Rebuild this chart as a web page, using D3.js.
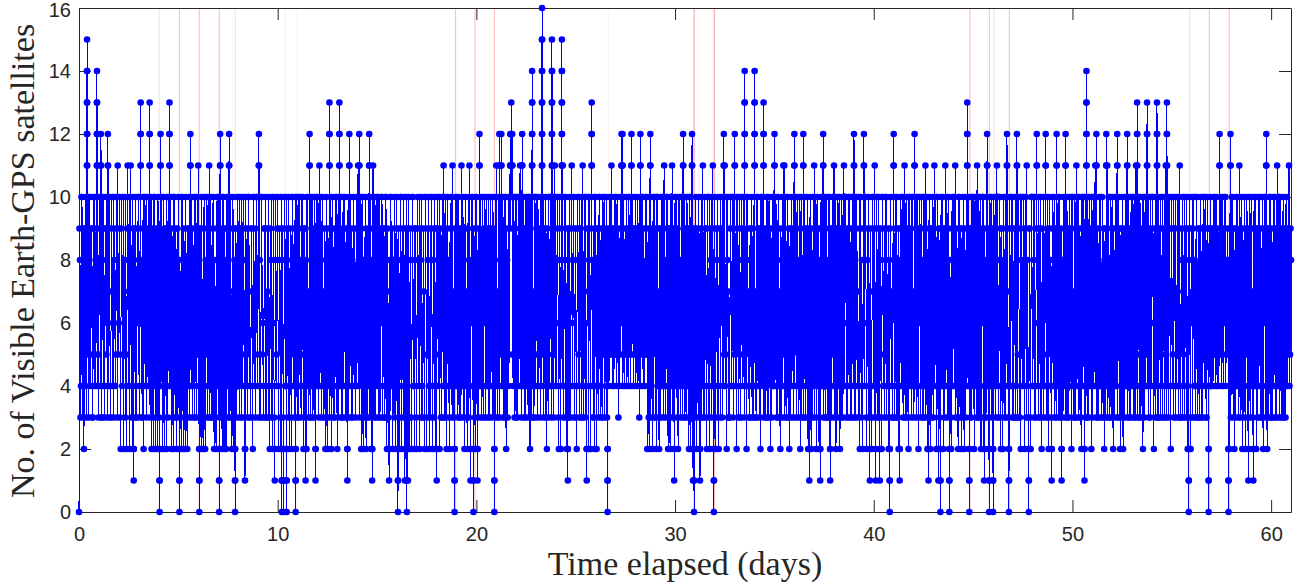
<!DOCTYPE html>
<html><head><meta charset="utf-8">
<script src="https://cdn.jsdelivr.net/npm/d3@7"></script>
<style>html,body{margin:0;padding:0;background:#fff;}svg{display:block;}</style>
</head><body>
<svg id="chart" width="1300" height="587"></svg>
<script>
// Number of visible Earth-GPS satellites; one string per day, 40 sample slots per day
// (each token = one slot; a multi-character token = several successive samples
// inside the same slot). Digits in base 17: a=10 ... g=16.
const days00to09 = [
  "0 9 8 3 4 a a 5 3 9 2 8 9 4 a 3 bcdefedcb 5 6 a 3 8 a 4 5 9 9 3 3 a 7 4 a 5 4 9 bcdedcb 4 a 3",
  "5 9 a 4 bcb 3 3 a 8 4 a 3 4 9 9 5 a 3 bcb 4 4 a 7 3 3 9 a 4 6 a 3 8 9 4 5 a a 3 b 5",
  "6 a 9 3 2 9 a 4 5 a 2 8 8 3 a 5 2 9 b 4 7 a 2 8 b 3 4 a 2 9 212 8 9 3 a 4 3 9 6 a",
  "a 3 4 9 bcdcb 4 8 3 3 a 2 9 a 4 6 a 3 8 9 4 a 5 bcdcb 3 5 a 2 8 9 3 2 a a 4 2 9 7 3 2 a",
  "8 3 21012 9 bcb 4 5 a 2 8 a 3 2 9 9 4 2 a 6 3 a 5 bcdcb 4 4 a 2 9 8 3 2 a a 4 3 9 2 8 9 3",
  "a 4 21012 8 7 3 2 a a 4 2 9 8 3 2 a 6 3 2 9 9 4 a 3 bcb 5 4 a 3 9 8 4 a 3 5 a 3 8 a 5",
  "b 4 21012 9 9 3 2 a 6 3 2 9 a 4 2 8 5 a 3 9 a 4 b 3 4 a 8 3 3 9 a 5 2 8 7 3 2 9 a 4",
  "5 a 21012 8 bcb 3 4 9 2 a a 4 2 9 8 3 2 a 9 4 a 3 bcb 5 3 a 7 3 2 9 a 4 2 8 21012 9 9 4 3 a",
  "a 4 6 a 3 9 9 3 a 5 4 a 8 3 212 9 a 4 5 9 3 a a 4 7 3 4 9 9 3 2 a a 4 6 9 3 a a 5",
  "4 a bcb 3 8 4 3 a a 5 6 3 4 9 9 3 a 4 3 9 7 3 a 4 2 9 8 3 a 4 2 a 6 3 212 8 a 4 5 9"
];
const days10to19 = [
  "a 4 2 8 9 3 2 a 21012 9 8 3 21012 9 a 4 4 a 21012 8 9 3 a 4 2 9 7 3 2 a a 4 5 9 3 a 21012 8 a 3",
  "6 a 3 9 a 4 8 3 4 a a 5 2 9 9 3 212 8 2 a a 4 7 3 bcb 4 3 a 9 4 a 3 5 9 3 a 212 9 a 4",
  "4 a 9 3 b 4 6 a 3 9 a 4 7 3 4 9 2 8 a 3 2 9 8 4 bcdcb 3 5 a 2 9 a 4 3 8 9 3 6 a a 4",
  "2 9 a 3 bcdcb 4 4 a 8 3 3 9 a 4 6 a 3 8 9 4 212 9 a 3 bcb 4 5 a 3 9 8 3 a 5 4 9 7 3 a 4",
  "5 a b 4 bcb 3 7 a 2 9 a 4 2 8 8 3 a 4 2 9 6 3 a 4 bcb 3 4 a 2 8 212 9 b 4 3 a 9 3 a 5",
  "4 a 8 3 a 4 3 9 6 a a 3 4 9 9 3 3 a a 4 2 9 7 3 212 8 2 a a 4 5 9 2 8 8 3 a 4 2 9",
  "a 4 21012 8 9 3 2 a a 4 2 9 7 3 a 4 212 9 6 a 21012 9 212 8 a 3 2 9 8 3 2 a a 4 4 9 2 8 9 3",
  "2 9 a 4 6 a 2 8 9 3 a 4 3 9 7 3 2 a a 5 2 9 8 3 a 4 2 9 3 a a 4 2 8 9 3 a 4 2 9",
  "212 9 a 4 5 a 2 8 9 3 3 a a 4 b 3 6 a 3 9 2 8 a 4 8 3 2 9 4 a a 3 b 4 7 3 21012 9 a 4",
  "4 a 8 3 a 4 3 9 9 3 b 4 5 a 3 8 2 9 a 4 7 3 2 9 a 3 b 4 212 8 6 a a 4 21012 9 8 3 2 a"
];
const days20to29 = [
  "a 4 212 8 9 3 bcb 4 4 a 7 3 a 4 3 9 6 a 9 3 a 4 4 9 3 a 8 3 a 4 5 9 3 a 9 4 21012 8 a 3",
  "b 4 7 3 a 4 bcb 3 a 5 bcb 4 4 a 9 3 3 a a 4 2 9 8 3 a 4 5 a bcb 9 bcdcb a bcb 5 4 a 9 3 a 4",
  "3 a 8 3 a 4 5 9 b 4 a 3 bcb 4 4 a 9 3 3 9 a 4 6 a 3 8 a 4 2 9 a 3 bcdedcb 4 7 3 3 a a 4",
  "5 a 9 3 a 4 4 9 7 3 a 4 bcdefgfedcb 5 6 a 3 9 9 3 a 4 2 9 8 3 a 4 4 a a 3 bcdefedcb 4 5 a 3 9 b 4",
  "a 4 6 a 9 3 2 8 a 4 2 9 bcdefedcb 4 b 3 4 a 8 3 a 4 2 9 212 8 9 3 a 4 3 9 b 4 6 a a 3 4 9",
  "8 3 2 9 a 4 5 a 3 9 9 3 a 4 b 3 4 a 7 3 a 4 212 9 6 a 2 8 a 4 2 9 bcdcb 4 8 3 3 a 2 9",
  "a 4 2 9 9 3 4 a a 4 3 9 7 3 a 5 5 a 3 8 9 4 a 3 21012 9 8 4 a 5 6 a b 5 4 9 9 4 a 5",
  "5 a 8 4 a 5 3 9 7 4 a 5 bcb 6 bcb 4 6 a 4 8 9 5 a 4 5 9 4 a 8 5 a 4 bcb 5 6 a 4 9 9 5",
  "a 4 5 9 4 a 8 5 3 9 bcb 4 6 a a 5 4 9 7 4 a 5 5 a 2 8 9 3 2 a bcb 3 4 9 2 8 a 3 6 a",
  "3 9 2 a a 4 7 3 2 9 9 3 a 4 4 a 3 9 b 4 8 3 5 a a 4 2 9 9 3 2 a a 4 b 3 4 9 212 8"
];
const days30to39 = [
  "a 4 6 a 3 9 2 8 a 4 8 3 4 a a 3 bcb 4 5 a 3 9 9 3 a 4 4 9 2 a a 3 2 9 bcb 4 212 9 21012 8",
  "9 3 a 4 2 9 7 3 a 4 212 9 8 3 a 4 b 3 4 a 3 9 9 4 2 a a 3 6 a 2 9 8 3 a 4 b 4 21012 9",
  "a 4 2 9 8 3 a 4 2 9 6 a 3 9 9 3 a 4 bcb 5 b 4 5 a 2 8 a 3 7 3 3 9 a 4 4 a 9 3 a 5",
  "bcb 4 6 a 2 9 a 3 4 a 8 3 3 9 a 4 5 a 9 3 bcdedcb 5 4 a 2 8 a 4 7 3 3 9 9 4 a 3 5 9 3 a",
  "bcdedcb 4 7 3 3 a a 4 5 9 9 3 2 a a 4 6 a bcdcb 3 4 9 8 3 a 4 3 a 9 3 a 5 2 9 7 3 a 4 4 a",
  "bcb 4 5 a 9 3 3 9 a 4 7 3 2 9 8 3 a 4 b 5 b 3 4 a 6 3 a 4 3 9 2 8 9 3 a 4 5 9 3 a",
  "bcb 4 6 a 3 9 a 4 8 3 4 a 2 9 a 3 7 4 bcb 3 5 a 3 9 9 4 a 3 2 9 212 8 a 4 2 9 8 3 a 4",
  "b 3 7 a 2 9 a 4 9 3 2 8 212 9 a 4 4 a bcb 3 6 a 3 9 a 4 8 3 3 a a 4 212 9 9 3 5 a a 4",
  "b 3 4 a 2 9 9 3 a 4 5 a 2 9 8 3 a 4 3 9 b 4 6 a a 3 4 9 3 a 9 4 a 3 6 9 3 a a 4",
  "bcb 3 5 a 3 9 a 4 7 3 4 a 2 9 a 3 8 4 2 9 bcb 4 6 a a 3 2 8 9 3 a 4 212 9 7 3 2 a a 4"
];
const days40to49 = [
  "9 3 b 4 212 9 a 3 6 a 3 9 212 8 9 3 2 a a 4 5 9 3 a 8 3 a 4 4 9 2 8 21012 9 a 4 7 3 3 a",
  "bcb 3 4 a 9 3 a 4 3 9 2 8 212 9 a 4 6 a 8 3 a 4 b 3 4 a 3 9 9 3 2 a a 4 5 9 3 a a 4",
  "7 3 bcb 4 4 a 9 3 a 4 2 9 6 a 3 9 a 4 8 3 3 a a 4 b 3 5 a 2 8 212 9 a 3 2 9 9 3 a 4",
  "3 9 b 4 6 a 2 8 a 4 212 9 8 3 21012 9 a 4 4 a 2 9 9 3 b 4 5 a 3 9 a 4 21012 8 7 3 2 9 a 4",
  "6 a a 4 b 3 4 9 8 3 2 a a 4 3 9 2 8 9 3 a 4 2 9 7 3 a 4 bcdcb 5 4 a 21012 9 9 3 3 a a 4",
  "5 a 2 9 a 4 7 3 b 4 3 a 9 3 a 4 2 9 6 a a 3 212 9 8 3 3 a bcb 4 4 9 21012 8 a 4 6 a 3 9",
  "21012 9 a 4 6 a 3 9 b 4 8 3 4 a a 3 2 9 9 4 2 8 a 3 5 a 3 9 bcb 4 7 3 21012 9 a 4 4 a 9 3",
  "a 4 3 9 7 3 a 4 bcb 3 5 a 9 3 3 a 2 8 a 4 6 a 4 9 2 8 a 3 b 4 8 3 21012 9 9 3 2 a a 4",
  "4 a 8 3 a 4 3 9 bcb 4 6 a 3 9 9 3 a 4 2 9 7 3 a 4 4 a bcb 3 5 a 3 9 2 8 a 4 8 3 212 9",
  "a 4 5 a 3 9 9 3 bcb 4 4 a 7 3 a 4 3 9 212 8 8 3 a 4 6 a bcb 3 4 a 3 9 9 3 a 4 5 9 2 a"
];
const days50to60 = [
  "a 4 7 3 3 a 9 3 b 4 5 a a 3 4 9 8 3 2 a a 4 6 a 212 9 a 3 bcdedcb 4 3 a 8 3 a 4 4 9 2 a",
  "9 3 a 4 5 a b 4 bcb 3 3 9 8 3 a 4 4 a 6 3 a 4 3 9 2 8 9 3 bcb 4 b 3 4 a 7 3 a 4 3 9",
  "a 4 2 9 8 3 a 4 4 a bcb 3 6 a 3 9 2 8 9 3 a 4 2 9 7 3 a 4 4 a bcb 3 5 a 3 9 9 3 a 4",
  "4 a 7 3 a 4 3 9 b 4 bcdcb 3 5 a 9 3 a 4 3 9 6 a 2 8 a 3 8 4 a 5 bcdcb 4 4 a 3 9 9 3 a 4",
  "6 a a 4 2 9 8 3 a 4 bcdcb 3 4 a 3 9 9 3 a 4 5 a 3 9 7 3 a 4 b 3 bcdcb 4 6 a 3 9 a 4 2 9",
  "a 4 5 a 3 9 9 3 a 4 4 a 7 3 a 4 b 3 3 9 8 3 a 4 5 a 3 9 9 3 a 4 2 9 21012 8 a 3 2 9",
  "6 a 3 9 a 4 8 3 4 a a 3 3 9 7 3 9 4 a 3 4 9 3 a a 4 6 a 8 3 3 9 a 4 21012 9 9 4 a 4",
  "4 9 9 4 a 5 5 a 8 4 a 5 4 9 7 4 bcb 5 5 a 9 4 a 5 4 9 6 a a 4 8 5 5 9 21012 8 2 9 bcb 3",
  "6 a a 4 3 9 2 8 9 3 a 4 4 a 7 3 b 4 3 9 a 4 2 9 8 3 a 4 2 9 5 a 9 3 212 8 a 4 3 9",
  "a 4 7 3 212 9 a 4 4 a 2 9 9 3 a 4 5 a 3 9 8 3 a 4 2 9 6 a a 3 bcb 4 2 9 9 3 4 a a 3",
  "3 9 8 3 a 4 5 a 3 9 9 3 b 4 4 a a 3 6 a 3 9 8 3 a 4 3 9 7 3 a 4 4 9 9 5 b 4 5 9 8"
];

// Times (days) of the faint red event lines, and their relative weight
const eventTimes   = [4.04, 5.05, 6.05, 7.06, 7.87, 10.38, 10.96, 18.95, 19.93, 20.91,
                      26.64, 30.96, 31.97, 44.84, 45.82, 46.04, 46.83, 55.90, 56.89, 57.89];
const eventWeights = [1, 2, 2, 2, 1, 0.5, 0.5, 2, 2, 2,
                      0.5, 3, 3, 2, 2, 1, 2, 1, 2, 2];

const xTicks = [0, 10, 20, 30, 40, 50, 60];
const yTicks = [0, 2, 4, 6, 8, 10, 12, 14, 16];
const xLabel = "Time elapsed (days)";
const yLabel = "No. of Visible Earth-GPS satellites";

// ---------------------------------------------------------------
const SLOT = 0.025;
const allDays = [].concat(days00to09, days10to19, days20to29, days30to39, days40to49, days50to60);
const pts = [];
allDays.forEach((str, d) => {
  str.trim().split(/\s+/).forEach((tok, i) => {
    const t0 = d + i * SLOT;
    const n = tok.length;
    for (let k = 0; k < n; k++) {
      const off = n > 1 ? (k / (n - 1)) * SLOT * 0.4 : 0;
      pts.push({ t: t0 + off, v: parseInt(tok[k], 17) });
    }
  });
});

const svg = d3.select("#chart");
const x = d3.scaleLinear().domain([0, 61]).range([79, 1291]);
const y = d3.scaleLinear().domain([0, 16]).range([512, 8]);
const ink = "#262626";
const tickFont = "'Liberation Sans', Arial, Helvetica, sans-serif";
const labelFont = "'Liberation Serif', 'Times New Roman', serif";

// red event lines (behind the data)
const op = d3.scaleLinear().domain([0, 3]).range([0, 0.36]);
svg.append("g").selectAll("line").data(eventTimes).join("line")
  .attr("x1", d => x(d)).attr("x2", d => x(d))
  .attr("y1", y(16)).attr("y2", y(0))
  .attr("stroke", "#ff0000")
  .attr("stroke-width", 1.2)
  .attr("stroke-opacity", (d, i) => op(eventWeights[i]));

// axes
function styleAxis(g) {
  g.selectAll("path.domain").attr("stroke", ink).attr("stroke-width", 1).attr("fill", "none");
  g.selectAll(".tick line").attr("stroke", ink).attr("stroke-width", 1);
  g.selectAll(".tick text").attr("fill", ink).style("font-family", tickFont).style("font-size", "20px");
}
svg.append("g").attr("transform", `translate(0,${y(0)})`)
  .call(d3.axisBottom(x).tickValues(xTicks).tickSize(-12).tickSizeOuter(0).tickPadding(15))
  .call(styleAxis);
svg.append("g").attr("transform", `translate(0,${y(16)})`)
  .call(d3.axisTop(x).tickValues(xTicks).tickSize(-12).tickSizeOuter(0).tickFormat(""))
  .call(styleAxis);
const yAxisG = svg.append("g").attr("transform", `translate(${x(0)},0)`)
  .call(d3.axisLeft(y).tickValues(yTicks).tickSize(-12).tickSizeOuter(0).tickPadding(8))
  .call(styleAxis);
yAxisG.selectAll(".tick text").filter(d => d === 16).attr("dy", "0.4em");
svg.append("g").attr("transform", `translate(${x(61)},0)`)
  .call(d3.axisRight(y).tickValues(yTicks).tickSize(-12).tickSizeOuter(0).tickFormat(""))
  .call(styleAxis);

// data line + markers
const line = d3.line().x(d => x(d.t)).y(d => y(d.v));
svg.append("path").datum(pts)
  .attr("d", line)
  .attr("fill", "none")
  .attr("stroke", "#0000ff")
  .attr("stroke-width", 1)
  .attr("shape-rendering", "crispEdges");
svg.append("g").selectAll("circle").data(pts).join("circle")
  .attr("cx", d => x(d.t)).attr("cy", d => y(d.v))
  .attr("r", 3.3)
  .attr("fill", "#0000ff");

// axis labels
svg.append("text")
  .attr("x", (x(0) + x(61)) / 2).attr("y", 575)
  .attr("text-anchor", "middle")
  .attr("fill", ink)
  .style("font-family", labelFont).style("font-size", "34px")
  .text(xLabel);
svg.append("text")
  .attr("transform", `translate(34,${(y(0) + y(16)) / 2 + 1}) rotate(-90)`)
  .attr("text-anchor", "middle")
  .attr("fill", ink)
  .style("font-family", labelFont).style("font-size", "34px")
  .text(yLabel);
</script>
</body></html>
